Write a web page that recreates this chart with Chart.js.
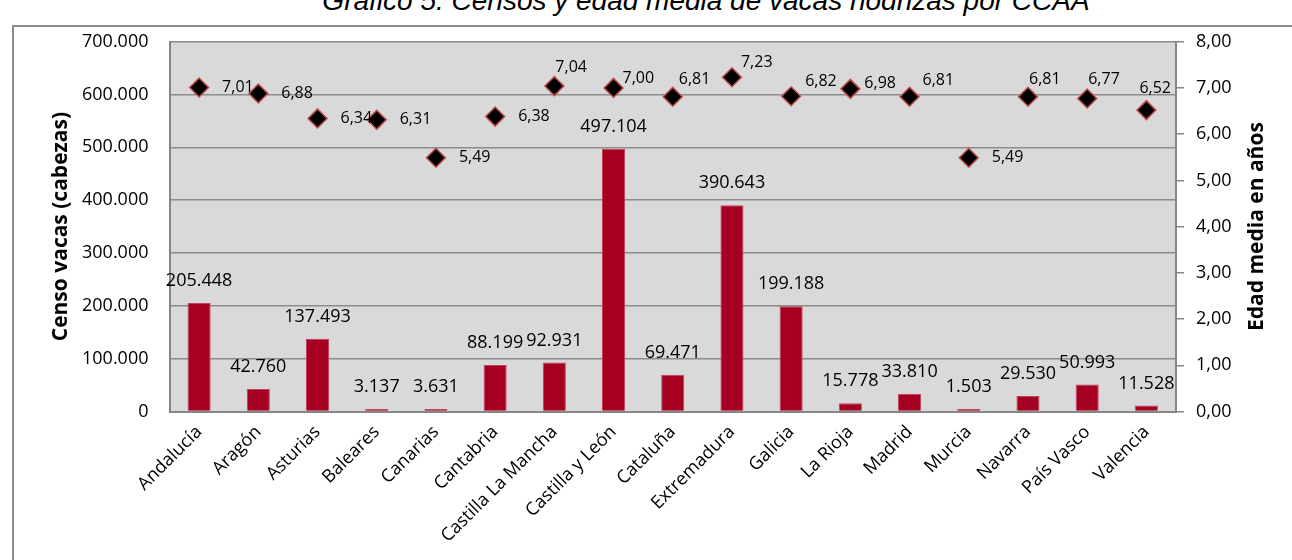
<!DOCTYPE html>
<html>
<head>
  <meta charset="utf-8">
  <title>Censos y edad media de vacas nodrizas por CCAA</title>
  <style>
    body { margin: 0; background: #fff; }
    .wrap { position: relative; width: 1292px; height: 560px; overflow: hidden; }
    .frame {
      position: absolute; left: 12px; top: 25px; width: 1320px; height: 620px;
      border: 2px solid #8c8c8c; box-sizing: border-box;
    }
    .title {
      position: absolute; left: 0; top: -13px; width: 1412px; text-align: center;
      font: italic 28px/28px "Liberation Sans", Arial, sans-serif; color: #000; white-space: nowrap;
    }
    #chart { position: absolute; left: 0; top: 0; }
  </style>
</head>
<body>
  <div class="wrap">
    <div class="frame"></div>
    <div class="title">Gráfico 5. Censos y edad media de vacas nodrizas por CCAA</div>
    <canvas id="chart" width="1292" height="560"></canvas>
  </div>

  <script src="https://cdn.jsdelivr.net/npm/chart.js"></script>
  <script>
    const regiones = ['Andalucía', 'Aragón', 'Asturias', 'Baleares', 'Canarias', 'Cantabria',
      'Castilla La Mancha', 'Castilla y León', 'Cataluña', 'Extremadura', 'Galicia', 'La Rioja',
      'Madrid', 'Murcia', 'Navarra', 'País Vasco', 'Valencia'];
    const censoVacas = [205448, 42760, 137493, 3137, 3631, 88199, 92931, 497104, 69471,
      390643, 199188, 15778, 33810, 1503, 29530, 50993, 11528];
    const edadMedia = [7.01, 6.88, 6.34, 6.31, 5.49, 6.38, 7.04, 7.00, 6.81, 7.23, 6.82,
      6.98, 6.81, 5.49, 6.81, 6.77, 6.52];
    const censoTicks = [0, 100000, 200000, 300000, 400000, 500000, 600000, 700000];
    const edadTicks = [0, 1, 2, 3, 4, 5, 6, 7, 8];

    const FONT = '"Open Sans", sans-serif';
    const miles = v => String(Math.round(v)).replace(/\B(?=(\d{3})+(?!\d))/g, '.');
    const decimal = v => Number(v).toFixed(2).replace('.', ',');

    // label nudges for the diamond labels (Excel placed them by hand)
    const nudge = { 6: [1, -19], 7: [9, -9], 8: [6, -17], 9: [9, -15], 10: [14, -15], 11: [14, -5],
      12: [13, -16], 14: [1, -17], 15: [1, -19], 16: [-7, -22] };

    const plotBg = {
      id: 'plotBg',
      beforeDraw(chart) {
        const { ctx, chartArea: a } = chart;
        ctx.save();
        ctx.fillStyle = '#d9d9d9';
        ctx.fillRect(a.left, a.top, a.right - a.left, a.bottom - a.top);
        ctx.restore();
      }
    };

    const labels = {
      id: 'labels',
      afterDatasetsDraw(chart) {
        const ctx = chart.ctx;
        ctx.save();
        ctx.fillStyle = '#000';
        ctx.textBaseline = 'middle';
        ctx.font = '18px ' + FONT;
        ctx.textAlign = 'center';
        chart.getDatasetMeta(0).data.forEach((el, i) => {
          ctx.fillText(miles(censoVacas[i]), el.x, el.y - 22);
        });
        ctx.font = '16px ' + FONT;
        ctx.textAlign = 'left';
        chart.getDatasetMeta(1).data.forEach((el, i) => {
          const [dx, dy] = nudge[i] || [23, 0];
          ctx.fillText(decimal(edadMedia[i]), el.x + dx, el.y + dy);
        });
        ctx.restore();
      }
    };

    const axisTitles = {
      id: 'axisTitles',
      afterDraw(chart) {
        const { ctx, chartArea: a } = chart;
        const cy = (a.top + a.bottom) / 2;
        ctx.save();
        ctx.fillStyle = '#000';
        ctx.font = 'bold 21px ' + FONT;
        ctx.textAlign = 'center';
        ctx.textBaseline = 'middle';
        [[61, 'Censo vacas (cabezas)'], [1257, 'Edad media en años']].forEach(([x, t]) => {
          ctx.save();
          ctx.translate(x, cy);
          ctx.rotate(-Math.PI / 2);
          ctx.fillText(t, 0, 0);
          ctx.restore();
        });
        ctx.restore();
      }
    };

    new Chart(document.getElementById('chart'), {
      data: {
        labels: regiones,
        datasets: [{
          type: 'bar',
          label: 'Censo vacas (cabezas)',
          data: censoVacas,
          yAxisID: 'y',
          backgroundColor: '#a50021',
          borderColor: '#c2415e',
          borderWidth: 1,
          minBarLength: 2.5,
          barPercentage: 0.39,
          categoryPercentage: 1,
          order: 2
        }, {
          type: 'line',
          label: 'Edad media en años',
          data: edadMedia,
          yAxisID: 'y1',
          showLine: false,
          pointStyle: 'rectRot',
          pointRadius: 9.5,
          pointBackgroundColor: '#000',
          pointBorderColor: '#c0504d',
          pointBorderWidth: 1.5,
          order: 1
        }]
      },
      options: {
        responsive: false,
        animation: false,
        events: [],
        layout: { padding: { top: 41.7, left: 0, right: 0, bottom: 0 } },
        plugins: { legend: { display: false }, tooltip: { enabled: false }, title: { display: false } },
        scales: {
          x: {
            grid: { display: false, drawTicks: false },
            border: { display: true, color: '#868686', width: 2 },
            ticks: { maxRotation: 45, minRotation: 45, padding: 10, color: '#000', font: { family: FONT, size: 18 } },
            afterFit: s => { s.height = 148.5; }
          },
          y: {
            position: 'left',
            min: censoTicks[0],
            max: censoTicks[censoTicks.length - 1],
            afterBuildTicks: s => { s.ticks = censoTicks.map(v => ({ value: v })); },
            ticks: { padding: 21, color: '#000', font: { family: FONT, size: 18 }, callback: v => miles(v) },
            grid: { color: '#8c8c8c', lineWidth: 1.5, drawTicks: false },
            border: { color: '#868686', width: 2 },
            afterFit: s => { s.width = 169.5; }
          },
          y1: {
            position: 'right',
            min: edadTicks[0],
            max: edadTicks[edadTicks.length - 1],
            afterBuildTicks: s => { s.ticks = edadTicks.map(v => ({ value: v })); },
            ticks: { padding: 12, color: '#000', font: { family: FONT, size: 18 }, callback: v => decimal(v) },
            grid: { drawOnChartArea: false, tickLength: 8, color: '#868686', lineWidth: 1.5 },
            border: { color: '#868686', width: 2 },
            afterFit: s => { s.width = 116; }
          }
        }
      },
      plugins: [plotBg, labels, axisTitles]
    });
  </script>
</body>
</html>
